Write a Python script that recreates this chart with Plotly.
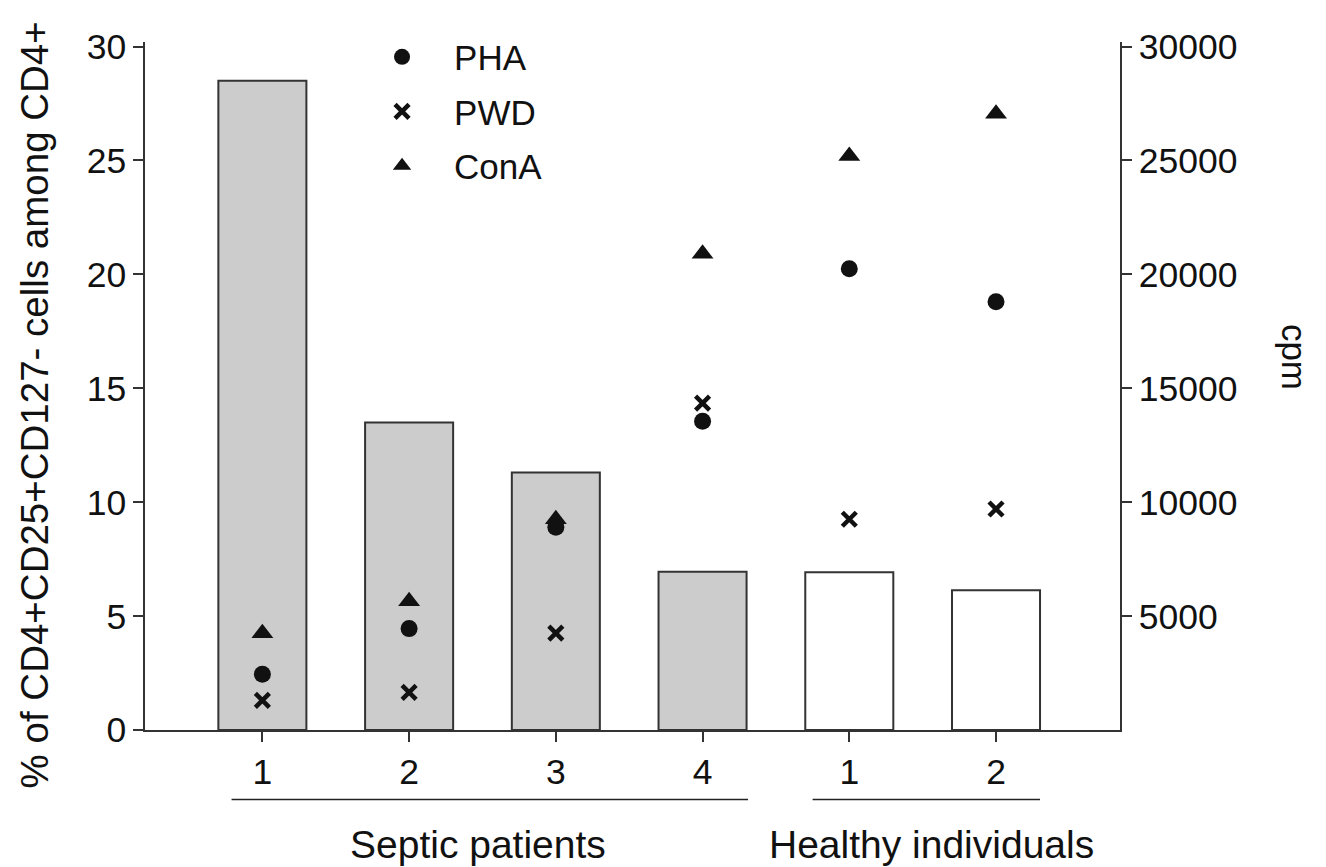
import plotly.graph_objects as go

categories = ["1", "2", "3", "4", "1", "2"]
groups = ["Septic patients", "Septic patients", "Septic patients", "Septic patients",
          "Healthy individuals", "Healthy individuals"]
treg_pct = [28.5, 13.5, 11.3, 6.95, 6.92, 6.13]
pha_cpm = [2450, 4450, 8900, 13550, 20250, 18800]
pwd_cpm = [1300, 1650, 4250, 14350, 9250, 9700]
cona_cpm = [4250, 5650, 9250, 20900, 25200, 27050]
bar_fill = ["#cccccc", "#cccccc", "#cccccc", "#cccccc", "#ffffff", "#ffffff"]
left_ticks = [0, 5, 10, 15, 20, 25, 30]
right_ticks = [5000, 10000, 15000, 20000, 25000, 30000]

xpos = list(range(len(categories)))
FONT = "Liberation Sans, Arial, Helvetica, sans-serif"

fig = go.Figure()
fig.add_trace(go.Bar(
    x=xpos, y=treg_pct, width=0.6,
    marker=dict(color=bar_fill, line=dict(color="#333333", width=2)),
    showlegend=False, yaxis="y",
))
fig.add_trace(go.Scatter(
    x=xpos, y=pha_cpm, mode="markers", name="PHA", yaxis="y2", legendgroup="a",
    marker=dict(symbol="circle", size=17, color="#111111"),
))
fig.add_trace(go.Scatter(
    x=xpos, y=pwd_cpm, mode="markers", name="PWD", yaxis="y2", legendgroup="b",
    marker=dict(symbol="x-thin", size=14, color="#111111",
                line=dict(color="#111111", width=4.5)),
))
fig.add_trace(go.Scatter(
    x=xpos, y=cona_cpm, mode="markers", name="ConA", yaxis="y2", legendgroup="c",
    marker=dict(symbol="triangle-up", size=19, color="#111111"),
))

# group underline shapes and labels
group_spans = [("Septic patients", -0.21, 3.31, 1.47), ("Healthy individuals", 3.75, 5.30, 4.56)]
for label, x0, x1, xc in group_spans:
    fig.add_shape(type="line", xref="x", yref="paper", x0=x0, x1=x1,
                  y0=-0.101, y1=-0.101, line=dict(color="#222222", width=1.5))
    fig.add_annotation(xref="x", yref="paper", x=xc, y=-0.166,
                       xanchor="center", yanchor="middle",
                       text=label, showarrow=False,
                       font=dict(size=39, color="#111111", family=FONT))

fig.add_annotation(xref="paper", yref="paper", x=-0.113, y=0.473,
                   xanchor="center", yanchor="middle",
                   text="% of CD4+CD25+CD127- cells among CD4+", textangle=-90,
                   showarrow=False, font=dict(size=38.5, color="#111111", family=FONT))
fig.add_annotation(xref="paper", yref="paper", x=1.179, y=0.543,
                   xanchor="center", yanchor="middle",
                   text="cpm", textangle=90,
                   showarrow=False, font=dict(size=35, color="#111111", family=FONT))

axis_common = dict(showgrid=False, zeroline=False, showline=True, linecolor="#333333",
                   linewidth=1.5, ticks="outside", ticklen=10, tickcolor="#333333",
                   tickwidth=1.5, tickfont=dict(size=35.5, color="#111111", family=FONT))

fig.update_layout(
    width=1326, height=867,
    margin=dict(l=137, r=214, t=34, b=145),
    plot_bgcolor="white", paper_bgcolor="white",
    xaxis=dict(range=[-0.8, 5.845], tickvals=xpos, ticktext=categories, **axis_common),
    yaxis=dict(range=[0, 30.2], tickvals=left_ticks,
               ticktext=[str(v) for v in left_ticks], **axis_common),
    yaxis2=dict(range=[0, 30200], overlaying="y", side="right", tickvals=right_ticks,
                ticktext=[str(v) for v in right_ticks], **axis_common),
    legend=dict(x=0.2103, y=1.021, xanchor="left", yanchor="top",
                font=dict(size=35, color="#111111", family=FONT),
                bgcolor="rgba(0,0,0,0)", tracegroupgap=6, itemwidth=94),
    showlegend=True,
)

fig.write_html("out.html")
